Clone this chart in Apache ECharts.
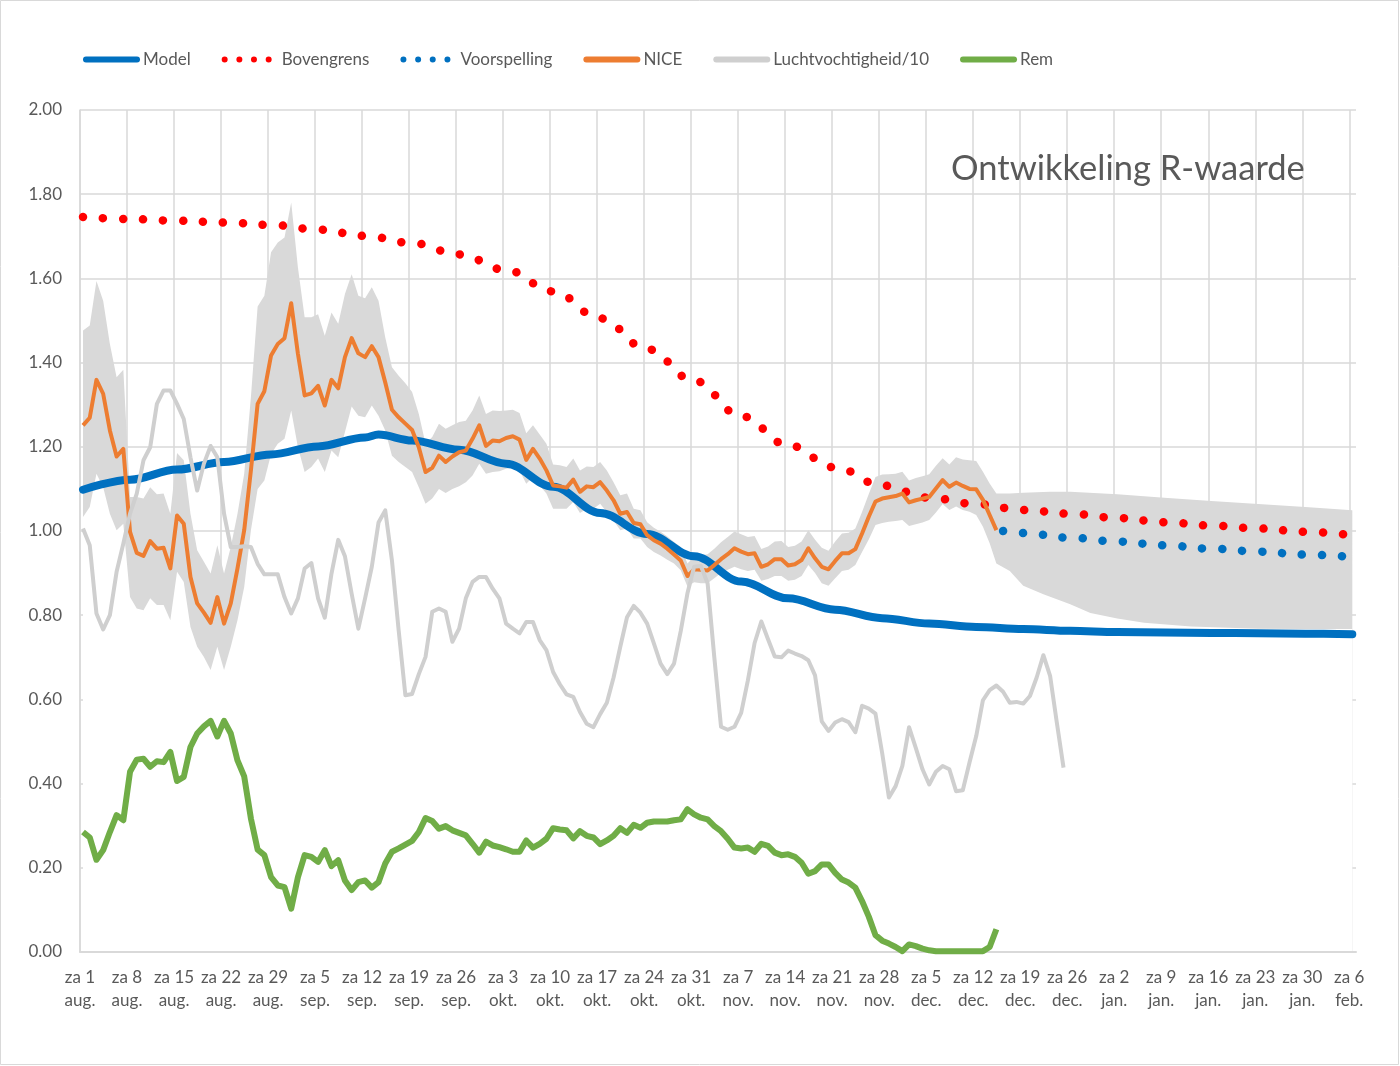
<!DOCTYPE html>
<html>
<head>
<meta charset="utf-8">
<script src="https://cdn.jsdelivr.net/npm/echarts@6/dist/echarts.min.js"></script>
<style>
html,body{margin:0;padding:0;background:#fff;}
#chart{width:1400px;height:1066px;}
</style>
</head>
<body>
<div id="chart"></div>
<script>
// ---- x axis tick labels (one per week, starting Sat 1 Aug) ----
const tickLabels = ["za 1\naug.","za 8\naug.","za 15\naug.","za 22\naug.","za 29\naug.",
  "za 5\nsep.","za 12\nsep.","za 19\nsep.","za 26\nsep.",
  "za 3\nokt.","za 10\nokt.","za 17\nokt.","za 24\nokt.","za 31\nokt.",
  "za 7\nnov.","za 14\nnov.","za 21\nnov.","za 28\nnov.",
  "za 5\ndec.","za 12\ndec.","za 19\ndec.","za 26\ndec.",
  "za 2\njan.","za 9\njan.","za 16\njan.","za 23\njan.","za 30\njan.","za 6\nfeb."];

// ---- Model (day index since 1 Aug) ----
const modelDays   = [0,7,14,21,28,35,42,44,49,56,63,70,77,84,91,98,105,112,119,126,133,140,147,154,161,168,175,182,189];
const modelValues = [1.098,1.122,1.146,1.164,1.182,1.201,1.222,1.229,1.215,1.193,1.160,1.105,1.043,0.993,0.940,0.880,0.840,0.813,0.793,0.780,0.772,0.767,0.763,0.760,0.759,0.758,0.757,0.756,0.755];

// ---- Bovengrens ----
const bovenDays   = [0,7,14,21,28,35,42,49,56,63,70,77,84,91,98,105,112,119,126,133,140,147,154,161,168,175,182,189];
const bovenValues = [1.746,1.741,1.737,1.733,1.727,1.716,1.701,1.684,1.657,1.620,1.569,1.505,1.432,1.357,1.273,1.204,1.151,1.108,1.079,1.064,1.050,1.041,1.031,1.021,1.013,1.006,0.998,0.990];

// ---- Voorspelling ----
const voorDays   = [137,140,147,154,161,168,175,182,189];
const voorValues = [1.000,0.995,0.984,0.975,0.966,0.958,0.951,0.944,0.938];

// ---- NICE (daily from 1 Aug) ----
const niceValues = [1.251,1.269,1.359,1.326,1.239,1.177,1.195,0.998,0.948,0.941,
 0.976,0.958,0.960,0.911,1.037,1.017,0.891,0.828,0.806,0.782,
 0.843,0.780,0.828,0.911,1.002,1.144,1.302,1.332,1.417,1.444,
 1.458,1.541,1.421,1.322,1.327,1.345,1.298,1.359,1.339,1.413,
 1.458,1.422,1.413,1.439,1.413,1.353,1.288,1.270,1.255,1.240,
 1.199,1.140,1.150,1.179,1.164,1.177,1.187,1.191,1.219,1.251,
 1.202,1.215,1.213,1.221,1.225,1.217,1.169,1.195,1.172,1.144,
 1.108,1.106,1.103,1.122,1.093,1.106,1.104,1.116,1.096,1.073,
 1.041,1.045,1.019,1.016,0.990,0.978,0.970,0.958,0.944,0.930,
 0.893,0.909,0.908,0.906,0.919,0.933,0.945,0.959,0.951,0.945,
 0.947,0.915,0.921,0.933,0.933,0.918,0.921,0.931,0.959,0.935,
 0.915,0.909,0.929,0.947,0.947,0.957,0.994,1.034,1.070,1.077,
 1.080,1.083,1.089,1.068,1.073,1.077,1.081,1.101,1.121,1.105,
 1.115,1.107,1.100,1.099,1.074,1.038,1.002];

// ---- Grey band: upper / lower bound (daily from 1 Aug, then forecast points) ----
const bandUpperDaily = [1.476,1.488,1.594,1.547,1.444,1.365,1.383,1.081,1.081,1.077,
 1.104,1.087,1.089,1.041,1.185,1.168,1.041,0.954,0.927,0.899,
 0.966,0.899,0.962,1.041,1.136,1.318,1.533,1.559,1.662,1.685,
 1.697,1.780,1.626,1.508,1.508,1.515,1.464,1.519,1.492,1.563,
 1.610,1.559,1.553,1.579,1.547,1.460,1.389,1.369,1.351,1.330,
 1.278,1.207,1.223,1.255,1.243,1.251,1.259,1.262,1.286,1.322,
 1.278,1.286,1.285,1.286,1.288,1.280,1.232,1.251,1.229,1.207,
 1.158,1.156,1.152,1.172,1.144,1.153,1.152,1.164,1.144,1.116,
 1.085,1.089,1.053,1.049,1.021,1.008,0.998,0.987,0.974,0.962,
 0.923,0.939,0.942,0.945,0.958,0.973,0.986,0.999,0.992,0.986,
 0.988,0.957,0.963,0.975,0.976,0.962,0.965,0.975,1.002,0.979,
 0.960,0.953,0.975,0.994,0.996,1.006,1.045,1.088,1.128,1.134,
 1.135,1.136,1.141,1.120,1.126,1.130,1.135,1.155,1.173,1.158,
 1.175,1.170,1.168,1.166,1.141,1.113,1.089];
const bandUpperFcDays   = [138,140,144,147,154,161,168,175,182,189];
const bandUpperFcValues = [1.089,1.091,1.093,1.093,1.087,1.079,1.071,1.064,1.057,1.049];

const bandLowerDaily = [1.033,1.057,1.136,1.104,1.041,1.002,1.017,0.843,0.816,0.812,
 0.840,0.824,0.824,0.788,0.903,0.879,0.772,0.725,0.701,0.670,
 0.725,0.670,0.725,0.788,0.867,1.002,1.100,1.120,1.183,1.207,
 1.219,1.286,1.199,1.140,1.152,1.172,1.140,1.191,1.175,1.235,
 1.296,1.274,1.270,1.298,1.274,1.239,1.179,1.164,1.152,1.140,
 1.104,1.065,1.077,1.100,1.090,1.100,1.106,1.116,1.132,1.160,
 1.136,1.140,1.142,1.148,1.150,1.144,1.112,1.128,1.108,1.089,
 1.053,1.053,1.053,1.069,1.043,1.053,1.053,1.065,1.045,1.025,
 1.002,1.006,0.982,0.982,0.962,0.950,0.942,0.932,0.923,0.907,
 0.868,0.878,0.876,0.876,0.888,0.900,0.908,0.915,0.909,0.905,
 0.908,0.882,0.886,0.893,0.893,0.882,0.884,0.893,0.919,0.900,
 0.876,0.870,0.888,0.905,0.908,0.919,0.950,0.980,1.014,1.019,
 1.022,1.024,1.026,1.012,1.016,1.020,1.026,1.044,1.064,1.050,
 1.058,1.050,1.046,1.038,1.010,0.971,0.923];
const bandLowerFcDays   = [138,140,143,147,150,154,158,165,175,182,189];
const bandLowerFcValues = [0.905,0.870,0.850,0.826,0.805,0.792,0.782,0.773,0.768,0.767,0.767];

// ---- Luchtvochtigheid/10 (daily from 1 Aug) ----
const humidValues = [1.006,0.966,0.804,0.766,0.800,0.903,0.970,1.041,1.089,1.168,
 1.199,1.302,1.334,1.334,1.302,1.266,1.175,1.096,1.160,1.202,
 1.175,1.041,0.962,0.962,0.964,0.962,0.922,0.897,0.897,0.897,
 0.843,0.804,0.840,0.911,0.924,0.840,0.794,0.899,0.979,0.940,
 0.851,0.768,0.840,0.915,1.020,1.049,0.930,0.764,0.610,0.613,
 0.660,0.701,0.808,0.816,0.808,0.737,0.768,0.840,0.879,0.891,
 0.891,0.863,0.840,0.780,0.768,0.757,0.784,0.784,0.741,0.717,
 0.665,0.636,0.612,0.606,0.570,0.542,0.534,0.565,0.592,0.652,
 0.725,0.795,0.822,0.806,0.780,0.733,0.685,0.660,0.685,0.762,
 0.852,0.915,0.917,0.876,0.700,0.535,0.528,0.535,0.568,0.645,
 0.734,0.785,0.743,0.702,0.700,0.716,0.709,0.703,0.693,0.657,
 0.548,0.525,0.545,0.553,0.546,0.522,0.585,0.578,0.566,0.472,
 0.367,0.394,0.442,0.534,0.485,0.434,0.398,0.428,0.442,0.434,
 0.382,0.384,0.450,0.513,0.598,0.622,0.633,0.618,0.592,0.594,
 0.590,0.608,0.652,0.705,0.656,0.545,0.438];

// ---- Rem (daily from 1 Aug) ----
const remValues = [0.285,0.272,0.219,0.242,0.285,0.325,0.313,0.428,0.457,0.459,
 0.440,0.453,0.451,0.475,0.406,0.416,0.487,0.519,0.536,0.549,
 0.512,0.549,0.519,0.455,0.417,0.317,0.243,0.230,0.178,0.158,
 0.154,0.103,0.178,0.230,0.226,0.214,0.242,0.204,0.218,0.170,
 0.147,0.166,0.170,0.153,0.166,0.210,0.238,0.246,0.255,0.264,
 0.285,0.318,0.311,0.293,0.299,0.289,0.283,0.277,0.257,0.236,
 0.262,0.253,0.249,0.244,0.238,0.238,0.265,0.248,0.257,0.269,
 0.294,0.291,0.289,0.270,0.287,0.276,0.272,0.256,0.265,0.276,
 0.294,0.283,0.302,0.295,0.307,0.310,0.310,0.310,0.313,0.315,
 0.339,0.327,0.319,0.315,0.299,0.287,0.269,0.248,0.246,0.248,
 0.238,0.257,0.252,0.236,0.230,0.232,0.226,0.212,0.186,0.192,
 0.208,0.208,0.188,0.172,0.165,0.153,0.121,0.084,0.040,0.027,
 0.020,0.012,0.002,0.018,0.014,0.008,0.004,0.002,0.002,0.002,
 0.002,0.002,0.002,0.002,0.002,0.012,0.054];

// ---- helpers to build [x, y] pairs ----
const OFF = 0.45; // points sit inside their day slot
function pairs(days, vals){ return days.map((d,i)=>[d+OFF, vals[i]]); }
function daily(vals){ return vals.map((v,i)=>[i+OFF, v]); }

const FONT = 'Lato, "Noto Sans", sans-serif';
const TXT = '#595959';
const GRID = '#d9d9d9';

const dotIcon = 'path://M0,3a3,3 0 1,0 6,0a3,3 0 1,0 -6,0Z M14.7,3a3,3 0 1,0 6,0a3,3 0 1,0 -6,0Z M29.3,3a3,3 0 1,0 6,0a3,3 0 1,0 -6,0Z M44,3a3,3 0 1,0 6,0a3,3 0 1,0 -6,0Z M56.8,3a0.1,0.1 0 1,0 0.2,0a0.1,0.1 0 1,0 -0.2,0Z';
const barIcon = 'path://M3,0H54A3,3 0 0,1 54,6H3A3,3 0 0,1 3,0Z';

const chart = echarts.init(document.getElementById('chart'), null, {renderer:'canvas'});
const dotted = [0.1, 19.9];

const option = {
  animation: false,
  backgroundColor: '#ffffff',
  textStyle: { fontFamily: FONT },
  title: {
    text: 'Ontwikkeling R-waarde',
    left: 951, top: 151, padding: 0,
    textStyle: { fontFamily: FONT, fontSize: 34.5, fontWeight: 'normal', color: TXT }
  },
  legend: {
    left: 83, top: 51, padding: 0,
    itemWidth: 57, itemHeight: 6, itemGap: 31,
    selectedMode: false,
    icon: barIcon,
    itemStyle: { borderWidth: 0 },
    textStyle: { fontFamily: FONT, fontSize: 17, color: TXT, padding: [0,0,0,-2] },
    data: [
      { name: 'Model' },
      { name: 'Bovengrens', icon: dotIcon },
      { name: 'Voorspelling', icon: dotIcon },
      { name: 'NICE' },
      { name: 'Luchtvochtigheid/10' },
      { name: 'Rem' }
    ]
  },
  grid: { left: 80, right: 44, top: 110, bottom: 114, containLabel: false },
  xAxis: [{
    type: 'value', min: 0, max: 190, interval: 7, z: 0,
    axisLine: { show: false },
    axisTick: { show: false },
    splitLine: { show: true, showMaxLine: false, lineStyle: { color: GRID, width: 1.5 } },
    axisLabel: {
      show: true, margin: 14, color: TXT, fontFamily: FONT, fontSize: 17, lineHeight: 23,
      showMinLabel: true, showMaxLabel: true,
      formatter: function(v){ const k = Math.round(v/7); return (Math.abs(v - k*7) < 1e-6 && tickLabels[k]) ? tickLabels[k] : ''; }
    }
  }, {
    type: 'value', min: 0, max: 190, position: 'bottom', z: 2,
    axisLine: { show: true, onZero: false, lineStyle: { color: GRID, width: 2 } },
    axisTick: { show: false }, axisLabel: { show: false }, splitLine: { show: false }
  }],
  yAxis: {
    type: 'value', min: 0, max: 2, interval: 0.2, z: 0,
    axisLine: { show: true, lineStyle: { color: GRID, width: 1.5 } },
    axisTick: { show: false },
    splitLine: { show: true, lineStyle: { color: GRID, width: 1.5 } },
    axisLabel: { margin: 18, color: TXT, fontFamily: FONT, fontSize: 17, formatter: v => v.toFixed(2) }
  },
  series: [
    { name: 'bandUpper', type: 'line', z: 1, silent: true, symbol: 'none',
      data: daily(bandUpperDaily).concat(pairs(bandUpperFcDays, bandUpperFcValues)),
      lineStyle: { width: 0 }, areaStyle: { color: '#d9d9d9', opacity: 1 } },
    { name: 'bandLower', type: 'line', z: 1, silent: true, symbol: 'none',
      data: daily(bandLowerDaily).concat(pairs(bandLowerFcDays, bandLowerFcValues)),
      lineStyle: { width: 0 }, areaStyle: { color: '#ffffff', opacity: 1 } },
    { name: 'Model', type: 'line', z: 3, symbol: 'none', color: '#0070C0',
      smooth: 0.35, smoothMonotone: 'x',
      data: pairs(modelDays, modelValues),
      lineStyle: { width: 8, cap: 'round', join: 'round' } },
    { name: 'Bovengrens', type: 'line', z: 3, symbol: 'none', color: '#FF0000',
      smooth: 0.4, smoothMonotone: 'x',
      data: pairs(bovenDays, bovenValues),
      lineStyle: { width: 8.5, type: dotted, cap: 'round' } },
    { name: 'Voorspelling', type: 'line', z: 3, symbol: 'none', color: '#0070C0',
      smooth: 0.4, smoothMonotone: 'x',
      data: pairs(voorDays, voorValues),
      lineStyle: { width: 8.5, type: dotted, cap: 'round' } },
    { name: 'NICE', type: 'line', z: 3, symbol: 'none', color: '#ED7D31',
      data: daily(niceValues),
      lineStyle: { width: 4, join: 'round' } },
    { name: 'Luchtvochtigheid/10', type: 'line', z: 3, symbol: 'none', color: '#CFCFCF',
      data: daily(humidValues),
      lineStyle: { width: 4, join: 'round' } },
    { name: 'Rem', type: 'line', z: 3, symbol: 'none', color: '#70AD47',
      data: daily(remValues),
      lineStyle: { width: 6, join: 'round' } }
  ],
  graphic: [{
    type: 'rect', silent: true, z: -1,
    shape: { x: 0.5, y: 0.5, width: 1398, height: 1064 },
    style: { fill: 'none', stroke: '#d9d9d9', lineWidth: 1 }
  }]
};
chart.setOption(option);
</script>
</body>
</html>
